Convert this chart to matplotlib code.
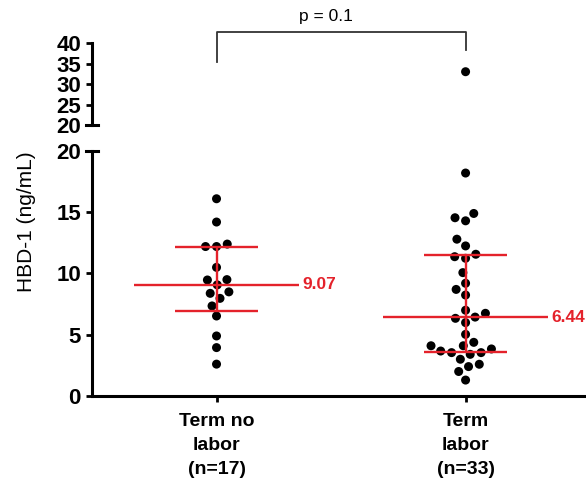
import numpy as np
import matplotlib
matplotlib.use("Agg")
import matplotlib.pyplot as plt

plt.rcParams['font.family'] = ['Liberation Sans', 'DejaVu Sans']

# data (ng/mL)
groups = ['Term no\nlabor\n(n=17)', 'Term\nlabor\n(n=33)']
no_labor = [16.1, 14.2, 12.4, 12.2, 12.2, 10.5, 9.5, 9.47, 9.07, 8.5, 8.38,
            7.97, 7.35, 6.53, 4.9, 3.95, 2.6]
labor = [33.0, 18.2, 14.9, 14.55, 14.3, 12.8, 12.25, 11.57, 11.37, 11.24,
         10.07, 9.2, 8.7, 8.24, 7.0, 6.75, 6.44, 6.34, 5.99, 5.03, 4.38,
         4.1, 4.1, 3.84, 3.67, 3.54, 3.54, 3.4, 3.0, 2.59, 2.4, 2.0, 1.3]
p_text = 'p = 0.1'

RED = '#e4222b'
BREAK = 20

fig = plt.figure(figsize=(5.86, 4.91), dpi=100)
ax = fig.add_axes([0.157, 0.1935, 0.85, 0.499])      # 0-20
axt = fig.add_axes([0.157, 0.7454, 0.85, 0.167])     # 20-40

ax.set_xlim(-0.5, 1.5)
ax.set_ylim(0, 20)
axt.set_xlim(-0.5, 1.5)
axt.set_ylim(20, 40)


def swarm(a, x0, vals, d=11.0):
    # simple beeswarm in pixel space
    vals = np.asarray(vals, float)
    if len(vals) == 0:
        return np.array([])
    pts = a.transData.transform(np.column_stack([np.full(len(vals), x0), vals]))
    ppu = a.transData.transform((1, 0))[0] - a.transData.transform((0, 0))[0]
    placed = []
    off = np.zeros(len(vals))
    for i in np.argsort(pts[:, 1]):
        y = pts[i, 1]
        cands = [0.0]
        for px, py in placed:
            dy = y - py
            if abs(dy) < d:
                dx = np.sqrt(d * d - dy * dy)
                cands += [px + dx, px - dx]
        cands.sort(key=lambda c: (round(abs(c), 3), c))
        for c in cands:
            if all((c - px) ** 2 + (y - py) ** 2 >= d * d - 1e-6 for px, py in placed):
                off[i] = c
                placed.append((c, y))
                break
    return x0 + off / ppu


for i, vals in enumerate([no_labor, labor]):
    vals = np.asarray(vals)
    lo = vals[vals <= BREAK]
    hi = vals[vals > BREAK]
    ax.scatter(swarm(ax, i, lo), lo, s=42, color='black', zorder=3,
               edgecolors='none', clip_on=False)
    if len(hi):
        axt.scatter(swarm(axt, i, hi), hi, s=42, color='black', zorder=3,
                    edgecolors='none', clip_on=False)

    med = np.median(vals)
    q1, q3 = np.percentile(vals, [25, 75], method='weibull')
    ax.hlines(med, i - 0.33, i + 0.33, color=RED, lw=1.7, zorder=4)
    ax.hlines([q1, q3], i - 0.165, i + 0.165, color=RED, lw=1.7, zorder=4)
    ax.vlines(i, q1, q3, color=RED, lw=1.7, zorder=4)
    ax.text(i + 0.345, med, f'{med:.2f}', color=RED, fontsize=12.5,
            fontweight='bold', va='center', ha='left', clip_on=False)

# axes styling
for a in (ax, axt):
    a.spines['top'].set_visible(False)
    a.spines['right'].set_visible(False)
    a.spines['left'].set_linewidth(2.2)
    a.tick_params(axis='y', width=2, length=4, pad=4, labelsize=16)
    # little cap at the axis break
    a.plot([-0.012, 0.012], [BREAK, BREAK], color='black', lw=2.2,
           transform=a.get_yaxis_transform(), clip_on=False)

ax.spines['bottom'].set_linewidth(2.2)
ax.set_yticks([0, 5, 10, 15, 20])
ax.set_yticklabels(['0', '5', '10', '15', '20'], fontweight='bold')
ax.set_xticks([0, 1])
ax.set_xticklabels(groups, fontsize=14, fontweight='bold', linespacing=1.55)
ax.tick_params(axis='x', width=2, length=4, pad=8)

axt.spines['bottom'].set_visible(False)
axt.set_xticks([])
axt.set_yticks([20, 25, 30, 35, 40])
axt.set_yticklabels(['20', '25', '30', '35', '40'], fontweight='bold')
axt.patch.set_visible(False)
ax.patch.set_visible(False)

# significance bracket
br_top, left_end, right_end = 42.7, 35.4, 38.3
axt.plot([0, 0, 1, 1], [left_end, br_top, br_top, right_end], color='#333333',
         lw=1.3, clip_on=False)
axt.text(0.44, 44.6, p_text, ha='center', va='bottom', fontsize=12.5,
         clip_on=False)

fig.text(0.046, 1 - 222 / 491, 'HBD-1 (ng/mL)', rotation=90, ha='center',
         va='center', fontsize=15)

fig.savefig('out.png', dpi=100)
